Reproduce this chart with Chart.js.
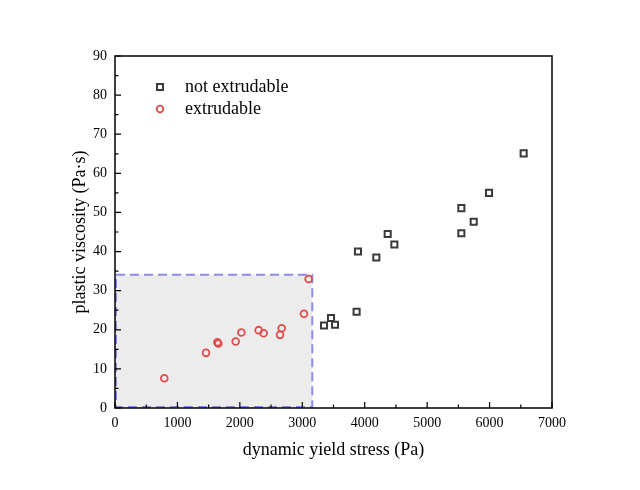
<!DOCTYPE html>
<html>
<head>
<meta charset="utf-8">
<script src="https://cdn.jsdelivr.net/npm/chart.js@4/dist/chart.umd.min.js"></script>
<style>
  html, body { margin: 0; padding: 0; background: #fff; }
  #wrap { width: 640px; height: 490px; }
</style>
</head>
<body>
<div id="wrap"><canvas id="chart" width="640" height="490"></canvas></div>
<script>
// data
const notExtrX = [6546, 5991, 5548, 5746, 5548, 4368, 4475, 3892, 4186, 3870, 3460, 3348, 3524];
const notExtrY = [65.1, 55.0, 51.1, 47.6, 44.7, 44.5, 41.8, 40.0, 38.5, 24.6, 23.0, 21.1, 21.3];
const extrX = [790, 1458, 1640, 1655, 1933, 2024, 2301, 2381, 2643, 2670, 3027, 3102];
const extrY = [7.6, 14.1, 16.8, 16.5, 17.0, 19.3, 19.9, 19.1, 18.7, 20.4, 24.1, 33.0];
const seriesNames = ['not extrudable', 'extrudable'];
// extrudable region: x from..to, y from..to
const regionX = [0, 3160];
const regionY = [0, 34.1];

const xTicks = [0, 1000, 2000, 3000, 4000, 5000, 6000, 7000];
const yTicks = [0, 10, 20, 30, 40, 50, 60, 70, 80, 90];

const serif = '"Liberation Serif", "DejaVu Serif", serif';

function toPoints(xs, ys) {
  return xs.map((x, i) => ({ x: x, y: ys[i] }));
}

// shaded region, frame, inward ticks and legend
const decorPlugin = {
  id: 'decor',
  beforeDatasetsDraw(chart) {
    const ctx = chart.ctx;
    const xs = chart.scales.x, ys = chart.scales.y;
    const l = xs.getPixelForValue(regionX[0]), r = xs.getPixelForValue(regionX[1]);
    const t = ys.getPixelForValue(regionY[1]), b = ys.getPixelForValue(regionY[0]);
    ctx.save();
    ctx.fillStyle = '#ececec';
    ctx.fillRect(l, t, r - l, b - t);
    ctx.strokeStyle = '#8c8ce8';
    ctx.lineWidth = 2;
    ctx.setLineDash([9, 5]);
    ctx.strokeRect(l + 1, t, r - l - 1, b - t - 1);
    ctx.restore();
  },
  afterDatasetsDraw(chart) {
    const ctx = chart.ctx;
    const a = chart.chartArea;
    const xs = chart.scales.x, ys = chart.scales.y;
    ctx.save();
    ctx.strokeStyle = '#000';
    ctx.lineWidth = 1.5;
    ctx.setLineDash([]);
    ctx.strokeRect(a.left, a.top, a.right - a.left, a.bottom - a.top);
    ctx.lineWidth = 1.2;
    ctx.beginPath();
    for (let v = 0; v <= 7000; v += 500) {
      const px = xs.getPixelForValue(v);
      const len = v % 1000 === 0 ? 6 : 3.5;
      ctx.moveTo(px, a.bottom);
      ctx.lineTo(px, a.bottom - len);
    }
    for (let v = 0; v <= 90; v += 5) {
      const py = ys.getPixelForValue(v);
      const len = v % 10 === 0 ? 6 : 3.5;
      ctx.moveTo(a.left, py);
      ctx.lineTo(a.left + len, py);
    }
    ctx.stroke();

    // legend
    const lx = a.left + 45, ly = a.top + 31;
    ctx.font = '18px ' + serif;
    ctx.textBaseline = 'middle';
    ctx.fillStyle = '#000';
    chart.data.datasets.forEach((ds, i) => {
      const y = ly + i * 22;
      ctx.strokeStyle = ds.borderColor;
      ctx.lineWidth = ds.borderWidth;
      ctx.beginPath();
      if (ds.pointStyle === 'rect') {
        ctx.rect(lx - 3, y - 3, 6, 6);
      } else {
        ctx.arc(lx, y, 3.3, 0, Math.PI * 2);
      }
      ctx.stroke();
      ctx.fillText(ds.label, lx + 25, y);
    });
    ctx.restore();
  }
};

new Chart(document.getElementById('chart'), {
  type: 'scatter',
  data: {
    datasets: [
      {
        label: seriesNames[0],
        data: toPoints(notExtrX, notExtrY),
        pointStyle: 'rect',
        pointRadius: 4.3,
        borderColor: '#3a3a3a',
        backgroundColor: 'rgba(0,0,0,0)',
        borderWidth: 2
      },
      {
        label: seriesNames[1],
        data: toPoints(extrX, extrY),
        pointStyle: 'circle',
        pointRadius: 3.4,
        borderColor: '#e04a4a',
        backgroundColor: 'rgba(0,0,0,0)',
        borderWidth: 1.8
      }
    ]
  },
  options: {
    responsive: false,
    animation: false,
    events: [],
    layout: { padding: { left: 65, top: 56, right: 88, bottom: 29 } },
    plugins: { legend: { display: false }, tooltip: { enabled: false } },
    scales: {
      x: {
        type: 'linear',
        min: 0,
        max: 7000,
        afterFit(scale) { scale.height = 53; },
        afterBuildTicks(scale) { scale.ticks = xTicks.map(v => ({ value: v })); },
        grid: { display: false, drawTicks: false },
        border: { display: false },
        ticks: { color: '#000', padding: 7, font: { family: serif, size: 14 }, callback: v => String(v) },
        title: {
          display: true,
          text: 'dynamic yield stress (Pa)',
          color: '#000',
          padding: { top: 4, bottom: 0 },
          font: { family: serif, size: 18 }
        }
      },
      y: {
        type: 'linear',
        min: 0,
        max: 90,
        afterFit(scale) { scale.width = 50; },
        afterBuildTicks(scale) { scale.ticks = yTicks.map(v => ({ value: v })); },
        grid: { display: false, drawTicks: false },
        border: { display: false },
        ticks: { color: '#000', padding: 8, font: { family: serif, size: 14 }, callback: v => String(v) },
        title: {
          display: true,
          text: 'plastic viscosity (Pa·s)',
          color: '#000',
          padding: { top: 4, bottom: 0 },
          font: { family: serif, size: 18 }
        }
      }
    }
  },
  plugins: [decorPlugin]
});
</script>
</body>
</html>
